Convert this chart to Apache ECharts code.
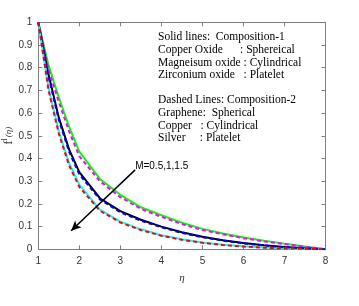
<!DOCTYPE html>
<html><head><meta charset="utf-8">
<script src="https://cdn.jsdelivr.net/npm/echarts@6/dist/echarts.min.js"></script>
<style>html,body{margin:0;padding:0;background:#fff}#c{width:359px;height:306px}</style>
</head><body><div id="c"></div>
<script>
var eta = [1,1.25,1.5,1.75,2,2.5,3,3.5,4,4.5,5,5.5,6,6.5,7,7.5,8];
var zirconiumSolid = [1,0.81,0.67,0.54,0.43,0.31,0.24,0.185,0.15,0.117,0.09,0.07,0.052,0.038,0.025,0.012,0];
var grapheneDashedA = [1,0.79,0.65,0.52,0.41,0.30,0.23,0.178,0.143,0.111,0.085,0.066,0.049,0.035,0.023,0.011,0];
var middleSolid = [1,0.77,0.58,0.44,0.34,0.225,0.168,0.13,0.1,0.075,0.055,0.04,0.028,0.018,0.01,0.005,0];
var middleDashed = [1,0.76,0.57,0.43,0.33,0.22,0.163,0.126,0.097,0.072,0.053,0.038,0.026,0.017,0.009,0.004,0];
var lowerSolid = [1,0.71,0.52,0.38,0.285,0.175,0.122,0.088,0.062,0.044,0.03,0.02,0.013,0.008,0.004,0.002,0];
var lowerDashed = [1,0.70,0.51,0.37,0.275,0.17,0.118,0.085,0.06,0.042,0.029,0.019,0.012,0.007,0.004,0.002,0];
var xTicks = [1,2,3,4,5,6,7,8];
var arrowFrom = [3.36, 0.35], arrowTo = [1.8, 0.082];
var arrowLabel = 'M=0.5,1,1.5';
var legendLines = [
  'Solid lines:  Composition-1',
  'Copper Oxide      : Sphereical',
  'Magneisum oxide : Cylindrical',
  'Zirconium oxide   : Platelet',
  '',
  'Dashed Lines: Composition-2',
  'Graphene:  Spherical',
  'Copper   : Cylindrical',
  'Silver     : Platelet'
];

function pts(ys){ return eta.map(function(x,i){ return [x, ys[i]]; }); }

var chart = echarts.init(document.getElementById('c'), null, {renderer:'canvas'});
var axisCol = '#808080', labCol = '#333';
function solid(name, ys, col){
  return {name:name, type:'line', data:pts(ys), symbol:'none', smooth:false,
    lineStyle:{color:col, width:2}, z:2, animation:false};
}
function dashed(name, ys, col){
  return {name:name, type:'line', data:pts(ys), symbol:'none', smooth:false,
    lineStyle:{color:col, width:2, type:[4,3]}, z:3, animation:false};
}
var series = [
  solid('green', zirconiumSolid, '#00ff00'),
  solid('black', middleSolid, '#000000'),
  solid('cyan', lowerSolid, '#00ffff'),
  dashed('magenta', grapheneDashedA, '#ff00ff'),
  dashed('blue', middleDashed, '#0000ff'),
  dashed('red', lowerDashed, '#ff0000')
];
series.push({
  type:'line', data:[], symbol:'none', animation:false,
  markLine:{silent:true, symbol:['none','arrow'], symbolSize:[7,10],
    lineStyle:{color:'#000', width:1.5, type:'solid'}, label:{show:false},
    data:[[{coord:arrowFrom},{coord:arrowTo}]]},
  markPoint:{silent:true, symbol:'circle', symbolSize:0,
    label:{show:true, formatter:arrowLabel, position:'right', distance:0, offset:[0,-4],
      fontFamily:'Liberation Sans', fontSize:10, color:'#000'},
    data:[{coord:arrowFrom}]}
});

var graphics = legendLines.map(function(t,i){
  var ys = [37,50,62.5,75,87,100,113,126,138];
  return {type:'text', left:158, top:ys[i]-6, silent:true,
    style:{text:t, font:'11.5px "Liberation Serif"', fill:'#000'}};
});

chart.setOption({
  animation:false,
  grid:{left:38.3, right:33.5, top:22.3, bottom:56.7, containLabel:false, outerBoundsMode:'none'},
  xAxis:[{
    type:'value', min:1, max:8, interval:1,
    name:'η', nameLocation:'middle', nameGap:23, nameMoveOverlap:false,
    nameTextStyle:{fontFamily:'Liberation Serif', fontStyle:'italic', fontSize:11, color:'#333'},
    axisLine:{show:true, lineStyle:{color:axisCol, width:1}},
    axisTick:{show:true, inside:true, length:4, lineStyle:{color:axisCol}},
    axisLabel:{color:labCol, fontFamily:'Liberation Sans', fontSize:10, margin:7,
      formatter:function(v){ return xTicks.indexOf(v)>=0 ? String(v) : ''; }},
    splitLine:{show:false}
  },{
    type:'value', min:1, max:8, interval:1, position:'top',
    axisLine:{show:true, onZero:false, lineStyle:{color:axisCol, width:1}},
    axisTick:{show:true, inside:true, length:4, lineStyle:{color:axisCol}},
    axisLabel:{show:false}, splitLine:{show:false}
  }],
  yAxis:[{
    type:'value', min:0, max:1, interval:0.1,
    name:'{a|f}{b|l}{c|(η)}', nameLocation:'middle', nameGap:22, nameRotate:90, nameMoveOverlap:false,
    nameTextStyle:{color:'#333', rich:{
      a:{fontFamily:'Liberation Serif', fontSize:13, color:'#333'},
      b:{fontFamily:'Liberation Serif', fontSize:8, color:'#333', padding:[0,1,7,0]},
      c:{fontFamily:'Liberation Serif', fontStyle:'italic', fontSize:9, color:'#333'}
    }},
    axisLine:{show:true, lineStyle:{color:axisCol, width:1}},
    axisTick:{show:true, inside:true, length:4, lineStyle:{color:axisCol}},
    axisLabel:{color:labCol, fontFamily:'Liberation Sans', fontSize:10, margin:6,
      formatter:function(v){ return String(Math.round(v*10)/10); }},
    splitLine:{show:false}
  },{
    type:'value', min:0, max:1, interval:0.1, position:'right',
    axisLine:{show:true, onZero:false, lineStyle:{color:axisCol, width:1}},
    axisTick:{show:true, inside:true, length:4, lineStyle:{color:axisCol}},
    axisLabel:{show:false}, splitLine:{show:false}
  }],
  series:series,
  graphic:graphics
});
</script></body></html>
